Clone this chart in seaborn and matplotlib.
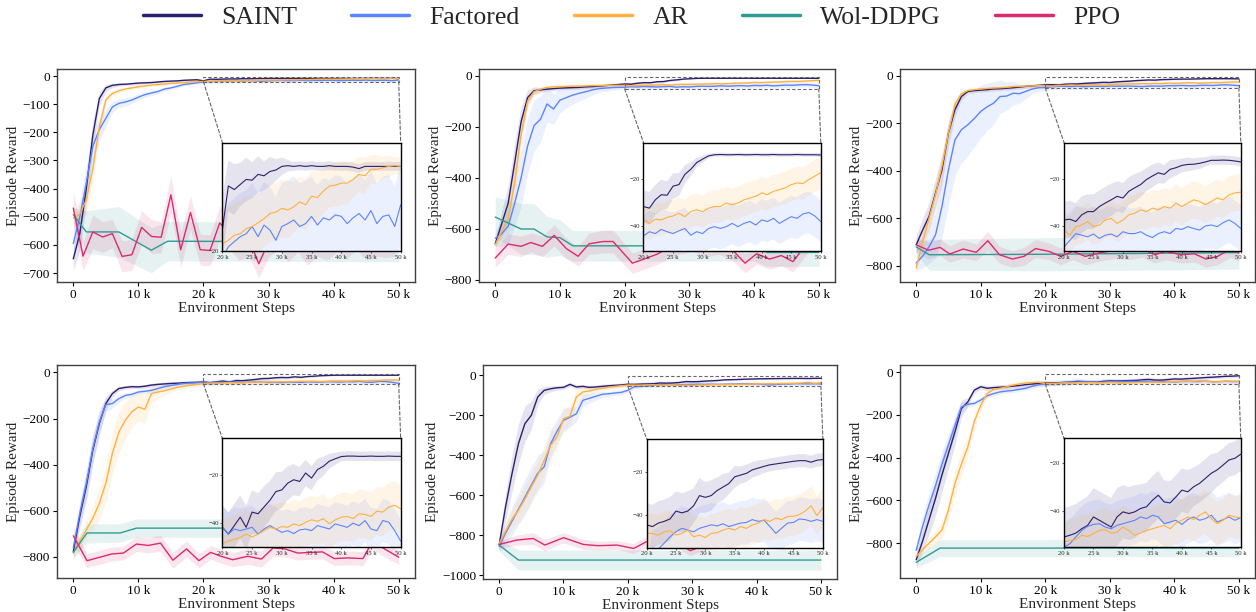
import matplotlib
matplotlib.use("Agg")
import numpy as np
import pandas as pd
import matplotlib.pyplot as plt
import seaborn as sns
from matplotlib.ticker import EngFormatter, MultipleLocator
from matplotlib.lines import Line2D
from matplotlib.patches import Rectangle, ConnectionPatch

# ---------------------------------------------------------------- data
ALGOS = ["SAINT", "Factored", "AR", "Wol-DDPG", "PPO"]
PALETTE = {"SAINT": "#2e1f6e", "Factored": "#5b84ff", "AR": "#ffb040",
           "Wol-DDPG": "#2f9c94", "PPO": "#dc2a70"}

# evaluation steps (thousands) for SAINT / Factored / AR
STEPS_K = [0, 1, 2, 3, 4, 5, 6, 7, 8, 9,
           10, 11, 12, 13, 14, 15, 16, 17, 18, 19,
           20, 21, 22, 23, 24, 25, 26, 27, 28, 29,
           30, 31, 32, 33, 34, 35, 36, 37, 38, 39,
           40, 41, 42, 43, 44, 45, 46, 47, 48, 49, 50]

# ---- panel 1
P1_SAINT = [-650, -560, -400, -210, -80, -42, -33, -30, -29, -27,
            -25, -24, -23, -21, -19, -18, -17, -15, -14, -13,
            -17, -11, -11.5, -10.8, -10.1, -10.2, -9.4, -9.6, -9.0, -8.8,
            -8.3, -8.2, -8.3, -8.2, -8.3, -8.2, -8.3, -8.3, -8.2, -8.3,
            -8.3, -8.3, -8.4, -8.6, -8.3, -8.3, -8.3, -8.3, -8.3, -8.3, -8.3]
P1_SAINT_SD = [40, 60, 60, 50, 25, 12, 8, 6, 5, 5,
               5, 5, 4, 4, 4, 4, 4, 4, 4, 4,
               4.5, 3.5, 3.5, 3, 3, 2.5, 2.5, 2, 2, 1.5,
               1.2, 0.8, 0.6, 0.6, 0.6, 0.6, 0.6, 0.6, 0.6, 0.6,
               0.6, 0.6, 0.6, 0.6, 0.6, 0.6, 0.6, 0.6, 0.6, 0.6, 0.6]
P1_FACT = [-595, -500, -380, -250, -190, -150, -110, -97, -92, -85,
           -75, -66, -60, -55, -46, -42, -36, -30, -27, -24,
           -21, -19.4, -18.7, -18.0, -17.6, -16.6, -18.0, -16.4, -17.1, -18.5,
           -16.6, -16.2, -15.7, -16.6, -16.2, -15.2, -16.4, -15.4, -15.7, -15.0,
           -15.2, -16.2, -15.4, -14.8, -15.7, -14.4, -16.2, -15.2, -15.0, -16.6, -13.6]
P1_FACT_SD = [50, 60, 60, 50, 40, 30, 20, 15, 15, 12,
              10, 10, 8, 8, 7, 6, 6, 5, 5, 5,
              6, 6, 6, 6, 6, 6, 6, 6, 6, 6,
              6, 6, 6, 6, 6, 5.5, 5.5, 5.5, 5.5, 5.5,
              5.5, 5.5, 5.5, 5.5, 5.5, 5.5, 5.5, 5.5, 5.5, 5.5, 5.5]
P1_AR = [-505, -490, -440, -330, -180, -85, -62, -52, -46, -42,
         -38, -35, -32, -30, -28, -26, -25, -23, -21, -20,
         -19, -18.5, -17.8, -17.6, -16.9, -16.6, -16.1, -15.5, -14.8, -14.6,
         -14.1, -14.3, -13.9, -13.2, -13.6, -12.4, -12.6, -11.7, -11.0, -10.9,
         -10.6, -10.6, -10.1, -9.4, -9.6, -8.7, -8.7, -8.5, -8.3, -8.2, -8.3]
P1_AR_SD = [30, 40, 50, 50, 35, 15, 10, 8, 7, 6,
            6, 5, 5, 5, 5, 5, 5, 5, 5, 5,
            4.5, 4.5, 4.5, 4.5, 4.5, 4, 4, 4, 4, 4,
            4, 4, 3.5, 3.5, 3.5, 3.5, 3.5, 3, 3, 3,
            3, 3, 2.5, 2.5, 2.5, 2, 2, 1.5, 1.5, 1.2, 1.2]
P1_WOL_X = [0, 2, 7, 12, 14.5, 50]
P1_WOL = [-493, -554, -554, -619, -587, -590]
P1_WOL_SD = [25, 75, 90, 80, 70, 70]
P1_PPO_X = [0, 1.5, 3, 4.5, 6, 7.5, 9, 10.5, 12, 13.5,
            15, 16.5, 18, 19.5, 21, 22.5, 24, 25.5, 27, 28.5,
            30, 31.5, 33, 34.5, 36, 37.5, 39, 40.5, 42, 43.5,
            45, 46.5, 48, 49.5]
P1_PPO = [-469, -640, -554, -572, -560, -641, -635, -538, -570, -573,
          -422, -617, -485, -617, -620, -522, -560, -600, -580, -667,
          -590, -560, -600, -570, -617, -580, -600, -570, -590, -560,
          -600, -580, -590, -585]
P1_PPO_SD = [60, 50, 60, 55, 50, 55, 55, 60, 60, 55,
             65, 60, 60, 55, 55, 60, 55, 55, 60, 50,
             55, 55, 60, 55, 55, 60, 55, 55, 60, 55,
             55, 60, 55, 55]

# ---- panel 2
P2_SAINT = [-659, -580, -500, -342, -180, -85, -58, -55, -52, -50,
            -48, -47, -46, -45, -43, -42, -40, -38, -36, -34,
            -31.7, -32.4, -28.8, -26.6, -26.8, -22.9, -22.2, -17.8, -15.6, -12.7,
            -11.2, -9.8, -9.3, -9.2, -9.3, -9.3, -9.2, -9.3, -9.3, -9.2,
            -9.3, -9.3, -9.2, -9.3, -9.3, -9.3, -9.2, -9.3, -9.3, -9.3, -9.4]
P2_SAINT_SD = [20, 50, 70, 80, 60, 30, 15, 10, 8, 8,
               7, 7, 7, 7, 7, 7, 7, 7, 7, 7,
               7, 7, 6.5, 6.5, 6, 5.5, 5, 4, 3, 2,
               1.5, 1, 0.8, 0.8, 0.8, 0.8, 0.8, 0.8, 0.8, 0.8,
               0.8, 0.8, 0.8, 0.8, 0.8, 0.8, 0.8, 0.8, 0.8, 0.8, 0.8]
P2_FACT = [-637, -620, -590, -500, -400, -275, -195, -170, -110, -130,
           -95, -85, -75, -68, -62, -55, -50, -48, -46, -45,
           -44.4, -42.6, -43.4, -41.6, -42.6, -43.4, -42.2, -41.2, -44.1, -42.6,
           -43.4, -41.2, -40.4, -41.2, -40.4, -39.0, -40.4, -39.0, -38.2, -39.7,
           -37.5, -38.2, -36.8, -39.0, -37.5, -36.1, -36.8, -34.9, -34.3, -35.8, -38.2]
P2_FACT_SD = [30, 50, 70, 90, 110, 110, 100, 90, 70, 60,
              50, 40, 35, 30, 25, 20, 15, 12, 10, 9,
              9, 9, 9, 9, 9, 9, 9, 9, 9, 9,
              9, 9, 9, 9, 9, 9, 9, 9, 9, 9,
              9, 9, 9, 9, 9, 9, 9, 9, 9, 9, 9]
P2_AR = [-663, -610, -560, -420, -230, -100, -62, -52, -45, -43,
         -42, -41, -40, -40, -39, -38, -38, -37, -37, -37,
         -37.5, -39.0, -37.2, -37.5, -36.4, -35.8, -34.6, -36.1, -33.9, -33.1,
         -33.9, -32.4, -31.7, -31.7, -30.2, -30.9, -30.2, -28.8, -28.0, -27.3,
         -25.8, -26.6, -25.1, -24.4, -23.6, -22.2, -21.5, -21.8, -20.0, -18.5, -17.1]
P2_AR_SD = [20, 40, 60, 70, 50, 25, 12, 10, 8, 8,
            7, 7, 7, 7, 7, 7, 7, 7, 7, 7,
            7, 7, 7, 7, 7, 7, 7, 7, 7, 7,
            7, 7, 7, 7, 7, 7, 7, 7, 7, 7,
            7, 7, 7, 7, 7, 7, 7, 7, 7, 7, 7]
P2_WOL_X = [0, 4, 6, 8, 10, 12, 40, 42, 50]
P2_WOL = [-554, -601, -601, -632, -635, -667, -667, -693, -693]
P2_WOL_SD = [80, 100, 100, 80, 70, 60, 60, 55, 55]
P2_PPO_X = [0, 2, 4, 5.5, 7.3, 9.1, 11, 12.8, 14.5, 16.7,
            18.2, 21.2, 23.4, 25, 26.7, 28.5, 30.5, 32.5, 34.5, 36.6,
            38.6, 40.4, 42.4, 44.2, 46, 48, 50]
P2_PPO = [-715, -660, -669, -654, -669, -626, -678, -708, -659, -650,
          -650, -735, -715, -700, -676, -660, -650, -670, -660, -682,
          -735, -698, -719, -705, -729, -663, -600]
P2_PPO_SD = [35, 40, 40, 38, 40, 42, 40, 38, 42, 45,
             45, 40, 40, 40, 42, 40, 40, 42, 40, 40,
             38, 40, 40, 40, 40, 42, 40]

# ---- panel 3
P3_SAINT = [-712, -650, -592, -494, -396, -241, -143, -87, -66, -62,
            -60, -58, -55, -54, -52, -50, -47, -44, -42, -40,
            -37.5, -37.2, -38.2, -35.3, -33.9, -33.9, -31.7, -30.2, -28.8, -27.3,
            -28.0, -25.1, -23.6, -22.2, -20.0, -18.5, -17.1, -17.8, -15.6, -14.9,
            -13.9, -13.5, -13.4, -13.0, -12.4, -11.7, -11.7, -11.6, -11.7, -12.0, -12.4]
P3_SAINT_SD = [40, 50, 60, 60, 60, 50, 30, 15, 10, 8,
               8, 8, 8, 8, 8, 8, 8, 8, 8, 8,
               8, 8, 8, 8, 7.5, 7.5, 7, 7, 7, 6.5,
               6.5, 6, 6, 5.5, 5, 5, 4.5, 4, 4, 3.5,
               3, 3, 2.5, 2.5, 2, 2, 2, 2, 2, 2, 2]
P3_FACT = [-789, -760, -720, -670, -550, -396, -270, -227, -206, -180,
           -150, -130, -115, -87, -85, -73, -75, -65, -55, -50,
           -49.2, -46.3, -43.4, -44.1, -44.8, -43.6, -45.5, -44.1, -43.6, -44.8,
           -42.6, -43.4, -43.4, -42.6, -44.1, -45.1, -43.4, -42.6, -43.4, -41.2,
           -41.6, -40.4, -41.2, -41.9, -40.1, -39.7, -40.4, -38.7, -37.5, -39.0, -41.2]
P3_FACT_SD = [30, 50, 70, 100, 130, 150, 150, 140, 130, 120,
              110, 100, 90, 70, 60, 50, 40, 30, 20, 15,
              12, 12, 12, 12, 12, 12, 12, 12, 12, 12,
              11, 11, 11, 11, 11, 11, 11, 11, 11, 11,
              10, 10, 10, 10, 10, 10, 10, 10, 10, 10, 10]
P3_AR = [-810, -700, -600, -500, -380, -240, -120, -75, -62, -58,
         -55, -53, -51, -50, -48, -45, -44, -43, -42, -41,
         -41.9, -44.1, -40.4, -39.7, -38.2, -40.4, -39.7, -37.5, -36.8, -39.0,
         -37.5, -35.3, -34.6, -33.1, -33.9, -32.4, -33.1, -31.7, -32.4, -30.2,
         -31.7, -30.2, -28.8, -29.5, -30.9, -29.5, -28.0, -28.8, -26.6, -25.8, -25.5]
P3_AR_SD = [20, 40, 50, 60, 60, 50, 30, 15, 10, 8,
            8, 8, 8, 8, 8, 8, 8, 8, 8, 8,
            8, 8, 8, 8, 8, 8, 8, 8, 8, 8,
            8, 8, 8, 8, 8, 8, 8, 8, 8, 8,
            8, 8, 8, 8, 8, 8, 8, 8, 8, 8, 8]
P3_WOL_X = [0, 2, 20, 50]
P3_WOL = [-721, -754, -752, -745]
P3_WOL_SD = [30, 65, 70, 70]
P3_PPO_X = [0, 1.9, 3.7, 5.2, 7.3, 9.3, 11.1, 12.9, 14.9, 16.7,
            18.5, 20.6, 22.4, 24.3, 26.2, 28.8, 31, 33, 35, 37,
            38.7, 41, 43.1, 44.9, 46.7, 48.7, 50]
P3_PPO = [-712, -735, -723, -751, -730, -744, -695, -754, -772, -761,
          -728, -740, -761, -740, -761, -744, -735, -740, -730, -754,
          -740, -754, -750, -772, -761, -730, -747]
P3_PPO_SD = [30, 35, 35, 35, 38, 35, 40, 35, 35, 38,
             38, 35, 35, 35, 35, 35, 35, 35, 35, 35,
             35, 35, 35, 35, 35, 35, 35]

# ---- panel 4
P4_SAINT = [-776, -624, -495, -337, -222, -135, -92, -70, -65, -62,
            -63, -60, -55, -52, -50, -48, -47, -45, -44, -43,
            -41.8, -44.6, -41.1, -37.6, -41.8, -35.5, -36.2, -33.4, -30.6, -27.0,
            -26.3, -23.5, -22.1, -22.8, -19.3, -21.4, -17.9, -16.5, -14.4, -13.4,
            -12.5, -12.3, -12.3, -12.4, -12.4, -12.3, -12.4, -12.4, -12.3, -12.4, -12.4]
P4_SAINT_SD = [30, 50, 60, 60, 50, 30, 15, 10, 8, 8,
               8, 8, 8, 8, 8, 8, 8, 8, 8, 8,
               9, 9, 9, 9, 9, 9, 8.5, 8.5, 8, 8,
               7.5, 7, 6.5, 6, 5.5, 5, 4.5, 4, 3, 2.5,
               2, 2, 2, 2, 2, 2, 2, 2, 2, 2, 2]
P4_FACT = [-761, -610, -480, -330, -215, -140, -135, -114, -100, -95,
           -85, -82, -78, -70, -62, -57, -52, -48, -46, -45,
           -41.8, -44.6, -42.5, -43.2, -42.5, -41.8, -44.6, -42.5, -41.1, -42.5,
           -43.9, -43.2, -44.4, -42.9, -42.5, -43.2, -41.1, -41.8, -42.5, -40.4,
           -41.1, -41.8, -40.1, -41.1, -39.0, -42.5, -43.2, -39.0, -39.7, -43.2, -47.5]
P4_FACT_SD = [30, 50, 60, 60, 50, 30, 20, 15, 12, 10,
              10, 10, 10, 10, 10, 10, 10, 10, 10, 10,
              9, 9, 9, 9, 9, 9, 9, 9, 9, 9,
              9, 9, 9, 9, 9, 9, 9, 9, 9, 9,
              9, 9, 9, 9, 9, 9, 9, 9, 9, 9, 9]
P4_AR = [-783, -732, -682, -632, -567, -480, -351, -258, -207, -171,
         -150, -160, -92, -85, -80, -72, -65, -60, -55, -52,
         -48.6, -47.5, -46.8, -46.0, -44.6, -45.8, -44.6, -43.2, -41.8, -42.5,
         -41.5, -41.8, -40.4, -41.1, -39.7, -38.7, -39.3, -38.2, -40.4, -38.7,
         -37.6, -37.3, -38.2, -36.2, -36.5, -37.3, -35.1, -35.5, -33.4, -32.7, -34.1]
P4_AR_SD = [20, 30, 40, 50, 70, 80, 90, 90, 80, 70,
            60, 60, 40, 30, 20, 15, 12, 10, 10, 10,
            10, 10, 10, 10, 10, 10, 10, 10, 10, 10,
            10, 10, 10, 10, 10, 10, 10, 10, 10, 10,
            10, 10, 10, 10, 10, 10, 10, 10, 10, 10, 10]
P4_WOL_X = [0, 2.1, 7.2, 9.7, 50]
P4_WOL = [-780, -696, -696, -675, -675]
P4_WOL_SD = [30, 40, 40, 40, 40]
P4_PPO_X = [0, 2.1, 4.1, 5.9, 7.7, 9.7, 11.5, 13.4, 15.3, 17.4,
            19.3, 21.1, 22.7, 24.5, 26.8, 28.9, 30.7, 32.5, 34.5, 36.6,
            38.3, 40.1, 42.2, 44.5, 46, 48, 50]
P4_PPO = [-708, -816, -801, -787, -783, -744, -750, -740, -814, -765,
          -816, -780, -797, -812, -797, -809, -761, -765, -783, -780,
          -778, -807, -804, -807, -732, -768, -801]
P4_PPO_SD = [40, 30, 30, 30, 30, 32, 32, 35, 35, 35,
             30, 30, 30, 30, 35, 35, 35, 35, 30, 30,
             30, 30, 30, 30, 35, 35, 30]

# ---- panel 5
P5_SAINT = [-850, -658, -492, -342, -242, -200, -108, -75, -67, -62,
            -60, -45, -58, -55, -60, -58, -55, -52, -50, -48,
            -44.4, -45.2, -43.6, -42.8, -41.7, -38.1, -38.9, -38.1, -35.7, -31.0,
            -31.8, -31.0, -28.7, -27.1, -25.5, -22.4, -21.6, -20.8, -19.2, -18.4,
            -17.6, -16.9, -16.5, -16.1, -15.7, -15.3, -15.0, -15.0, -15.7, -14.8, -14.5]
P5_SAINT_SD = [30, 70, 90, 100, 90, 70, 40, 20, 15, 12,
               10, 10, 10, 10, 10, 10, 10, 10, 10, 10,
               10, 10, 10, 10, 10, 9, 9, 9, 8, 8,
               7, 7, 6, 6, 5, 5, 4, 4, 3.5, 3.5,
               3, 3, 3, 3, 3, 3, 3, 3, 3, 3, 3]
P5_FACT = [-858, -790, -730, -670, -610, -550, -490, -458, -342, -280,
           -225, -210, -192, -125, -115, -105, -95, -92, -88, -85,
           -75, -57.0, -55.4, -52.8, -49.9, -47.6, -46.0, -46.8, -47.6, -46.0,
           -45.2, -44.4, -44.9, -43.9, -45.2, -44.4, -43.6, -43.3, -42.0, -42.8,
           -42.3, -45.2, -48.3, -45.9, -43.6, -43.3, -41.7, -42.0, -42.8, -42.0, -42.8]
P5_FACT_SD = [30, 50, 70, 80, 90, 90, 90, 80, 70, 60,
              60, 50, 40, 30, 25, 20, 15, 12, 12, 12,
              10, 10, 10, 10, 10, 10, 10, 10, 10, 10,
              10, 10, 10, 10, 10, 10, 10, 10, 10, 10,
              10, 10, 10, 10, 10, 10, 10, 10, 10, 10, 10]
P5_AR = [-842, -780, -720, -675, -620, -558, -500, -425, -350, -308,
         -217, -205, -108, -83, -78, -70, -65, -60, -55, -52,
         -48.3, -48.3, -49.1, -47.6, -47.1, -49.1, -48.3, -46.8, -49.9, -49.1,
         -50.2, -48.3, -48.0, -46.8, -46.0, -46.8, -45.2, -46.0, -44.4, -43.6,
         -42.0, -42.8, -41.3, -42.0, -40.5, -40.5, -39.7, -38.1, -35.7, -40.2, -36.5]
P5_AR_SD = [30, 40, 50, 60, 70, 70, 70, 70, 70, 60,
            50, 50, 40, 30, 20, 15, 12, 10, 10, 10,
            9, 9, 9, 9, 9, 9, 9, 9, 9, 9,
            9, 9, 9, 9, 9, 9, 9, 9, 9, 9,
            9, 9, 9, 9, 9, 9, 9, 9, 9, 9, 9]
P5_WOL_X = [0, 3, 50]
P5_WOL = [-850, -925, -925]
P5_WOL_SD = [30, 50, 50]
P5_PPO_X = [0, 2.7, 5.3, 7.1, 10, 13.1, 15.4, 18.3, 20.9, 22.9,
            25.5, 28, 29.7, 32, 35, 38, 41, 44, 47, 50]
P5_PPO = [-847, -825, -817, -850, -813, -847, -853, -850, -867, -833,
          -830, -845, -878, -850, -840, -845, -835, -850, -840, -845]
P5_PPO_SD = [20, 25, 30, 28, 25, 25, 22, 22, 25, 28,
             25, 25, 25, 25, 25, 25, 25, 25, 25, 25]

# ---- panel 6
P6_SAINT = [-878, -790, -690, -590, -480, -380, -280, -170, -139, -84,
            -68, -75, -72, -70, -68, -65, -62, -58, -55, -52,
            -50.8, -50.1, -49.2, -47.4, -46.0, -42.5, -43.9, -45.3, -46.7, -42.5,
            -40.4, -41.1, -40.4, -39.0, -38.3, -35.6, -33.5, -36.3, -36.7, -34.2,
            -31.4, -32.1, -30.0, -28.6, -26.5, -24.4, -23.0, -21.0, -18.9, -18.2, -16.5]
P6_SAINT_SD = [30, 50, 70, 80, 80, 70, 60, 40, 20, 15,
               12, 12, 12, 12, 12, 12, 12, 12, 12, 12,
               12, 12, 12, 12, 12, 12, 12, 12, 12, 12,
               11, 11, 11, 10, 10, 10, 10, 9, 9, 9,
               9, 9, 8, 8, 8, 8, 7, 7, 7, 7, 7]
P6_FACT = [-834, -720, -620, -530, -430, -340, -250, -162, -150, -146,
           -130, -110, -100, -92, -88, -85, -80, -75, -65, -58,
           -55.0, -53.6, -50.8, -48.1, -46.4, -45.6, -45.3, -46.7, -47.4, -46.0,
           -45.3, -44.6, -43.9, -42.5, -43.2, -41.8, -42.5, -45.3, -44.6, -43.9,
           -45.6, -43.6, -42.5, -43.9, -43.2, -41.8, -44.6, -43.6, -42.5, -43.9, -42.8]
P6_FACT_SD = [30, 50, 60, 60, 60, 50, 40, 25, 15, 12,
              10, 10, 10, 10, 10, 10, 10, 10, 10, 10,
              10, 10, 10, 10, 10, 10, 10, 10, 10, 10,
              10, 10, 10, 10, 10, 10, 10, 10, 10, 10,
              10, 10, 10, 10, 10, 10, 10, 10, 10, 10, 10]
P6_AR = [-862, -830, -800, -770, -738, -644, -520, -430, -349, -232,
         -154, -100, -80, -75, -68, -60, -55, -50, -48, -47,
         -52.9, -52.2, -51.9, -50.1, -50.6, -49.4, -48.1, -47.8, -49.2, -48.8,
         -46.7, -48.1, -50.1, -49.2, -48.1, -47.4, -46.7, -46.0, -47.4, -45.0,
         -43.9, -42.5, -43.6, -41.8, -40.4, -43.2, -45.3, -43.9, -41.8, -42.5, -42.8]
P6_AR_SD = [20, 20, 25, 30, 40, 50, 60, 60, 50, 40,
            30, 20, 15, 12, 10, 10, 10, 10, 10, 10,
            9, 9, 9, 9, 9, 9, 9, 9, 9, 9,
            9, 9, 9, 9, 9, 9, 9, 9, 9, 9,
            9, 9, 9, 9, 9, 9, 9, 9, 9, 9, 9]
P6_WOL_X = [0, 3.7, 50]
P6_WOL = [-890, -823, -823]
P6_WOL_SD = [25, 40, 40]

PANEL_DATA = [
    {"SAINT": (STEPS_K, P1_SAINT, P1_SAINT_SD), "Factored": (STEPS_K, P1_FACT, P1_FACT_SD),
     "AR": (STEPS_K, P1_AR, P1_AR_SD), "Wol-DDPG": (P1_WOL_X, P1_WOL, P1_WOL_SD),
     "PPO": (P1_PPO_X, P1_PPO, P1_PPO_SD)},
    {"SAINT": (STEPS_K, P2_SAINT, P2_SAINT_SD), "Factored": (STEPS_K, P2_FACT, P2_FACT_SD),
     "AR": (STEPS_K, P2_AR, P2_AR_SD), "Wol-DDPG": (P2_WOL_X, P2_WOL, P2_WOL_SD),
     "PPO": (P2_PPO_X, P2_PPO, P2_PPO_SD)},
    {"SAINT": (STEPS_K, P3_SAINT, P3_SAINT_SD), "Factored": (STEPS_K, P3_FACT, P3_FACT_SD),
     "AR": (STEPS_K, P3_AR, P3_AR_SD), "Wol-DDPG": (P3_WOL_X, P3_WOL, P3_WOL_SD),
     "PPO": (P3_PPO_X, P3_PPO, P3_PPO_SD)},
    {"SAINT": (STEPS_K, P4_SAINT, P4_SAINT_SD), "Factored": (STEPS_K, P4_FACT, P4_FACT_SD),
     "AR": (STEPS_K, P4_AR, P4_AR_SD), "Wol-DDPG": (P4_WOL_X, P4_WOL, P4_WOL_SD),
     "PPO": (P4_PPO_X, P4_PPO, P4_PPO_SD)},
    {"SAINT": (STEPS_K, P5_SAINT, P5_SAINT_SD), "Factored": (STEPS_K, P5_FACT, P5_FACT_SD),
     "AR": (STEPS_K, P5_AR, P5_AR_SD), "Wol-DDPG": (P5_WOL_X, P5_WOL, P5_WOL_SD),
     "PPO": (P5_PPO_X, P5_PPO, P5_PPO_SD)},
    {"SAINT": (STEPS_K, P6_SAINT, P6_SAINT_SD), "Factored": (STEPS_K, P6_FACT, P6_FACT_SD),
     "AR": (STEPS_K, P6_AR, P6_AR_SD), "Wol-DDPG": (P6_WOL_X, P6_WOL, P6_WOL_SD)},
]

# ---------------------------------------------------------------- layout
LAYOUT = [
    dict(rect=[0.0454, 0.5392, 0.2850, 0.3480], ylim=(-732, 25), ystep=100, iylim=(-20, -5)),
    dict(rect=[0.3814, 0.5392, 0.2834, 0.3480], ylim=(-809, 27), ystep=200, iylim=(-51, -4)),
    dict(rect=[0.7166, 0.5392, 0.2826, 0.3480], ylim=(-869, 29), ystep=200, iylim=(-51, -4)),
    dict(rect=[0.0454, 0.0556, 0.2850, 0.3480], ylim=(-891, 32), ystep=200, iylim=(-50, -5)),
    dict(rect=[0.3846, 0.0539, 0.2818, 0.3497], ylim=(-1020, 52), ystep=200, iylim=(-55, -5)),
    dict(rect=[0.7166, 0.0556, 0.2826, 0.3480], ylim=(-963, 34), ystep=200, iylim=(-55, -10)),
]
INSET_RECT = [0.462, 0.145, 0.498, 0.51]

sns.set_style("ticks")
plt.rcParams["font.family"] = ["Liberation Serif", "DejaVu Serif"]
plt.rcParams["axes.unicode_minus"] = True


def draw_curves(ax, curves, lw, alpha):
    frames = []
    order = [a for a in ALGOS if a in curves]
    for algo in order:
        xk, m, s = curves[algo]
        if not (len(xk) == len(m) == len(s)):
            raise ValueError(f"length mismatch for {algo}: {len(xk)} {len(m)} {len(s)}")
        x = np.asarray(xk, float) * 1000.0
        m = np.asarray(m, float)
        s = np.asarray(s, float)
        ax.fill_between(x, m - s, m + s, color=PALETTE[algo], alpha=alpha, linewidth=0)
        frames.append(pd.DataFrame({"step": x, "reward": m, "algo": algo}))
    df = pd.concat(frames, ignore_index=True)
    sns.lineplot(data=df, x="step", y="reward", hue="algo", hue_order=order,
                 palette=PALETTE, estimator=None, errorbar=None, sort=False,
                 linewidth=lw, legend=False, ax=ax)


fig = plt.figure(figsize=(12.56, 6.12), dpi=100)

for curves, lay in zip(PANEL_DATA, LAYOUT):
    ax = fig.add_axes(lay["rect"])
    draw_curves(ax, curves, 1.0, 0.12)
    ax.set_xlim(-2500, 52500)
    ax.set_ylim(*lay["ylim"])
    ax.xaxis.set_major_locator(MultipleLocator(10000))
    ax.xaxis.set_major_formatter(EngFormatter(places=0, sep=" "))
    ax.yaxis.set_major_locator(MultipleLocator(lay["ystep"]))
    ax.set_xlabel("Environment Steps", fontsize=11, labelpad=1)
    ax.set_ylabel("Episode Reward", fontsize=11, labelpad=2)
    ax.tick_params(labelsize=9.5, length=3, width=0.8, pad=2, colors="black")
    for sp in ax.spines.values():
        sp.set_color("0.25")
        sp.set_linewidth(1.0)

    axins = ax.inset_axes(INSET_RECT)
    draw_curves(axins, curves, 0.8, 0.12)
    axins.set_xlim(20000, 50000)
    axins.set_ylim(*lay["iylim"])
    axins.xaxis.set_major_locator(MultipleLocator(5000))
    axins.xaxis.set_major_formatter(EngFormatter(places=0, sep=" "))
    axins.yaxis.set_major_locator(MultipleLocator(20))
    axins.set_xlabel("")
    axins.set_ylabel("")
    axins.tick_params(labelsize=4.8, length=1.5, width=0.5, pad=1)
    for sp in axins.spines.values():
        sp.set_color("black")
        sp.set_linewidth(1.0)

    x0, x1 = axins.get_xlim()
    y0, y1 = axins.get_ylim()
    ax.add_patch(Rectangle((x0, y0), x1 - x0, y1 - y0, fill=False,
                           linestyle=(0, (3, 2)), linewidth=0.8, edgecolor="0.4", zorder=4))
    for xa, xb in [(0, x0), (1, x1)]:
        con = ConnectionPatch(xyA=(xb, y0), coordsA=ax.transData,
                              xyB=(xa, 1), coordsB=axins.transAxes,
                              linestyle=(0, (3, 2)), linewidth=0.8, color="0.4")
        ax.add_artist(con)

handles = [Line2D([], [], color=PALETTE[a], lw=2.5) for a in ALGOS]
fig.legend(handles, ALGOS, loc="center", bbox_to_anchor=(0.503, 0.972), ncol=5,
           frameon=False, fontsize=18.5, handlelength=2.25, handletextpad=0.8,
           columnspacing=2.1)

fig.savefig("out.png", dpi=100)
